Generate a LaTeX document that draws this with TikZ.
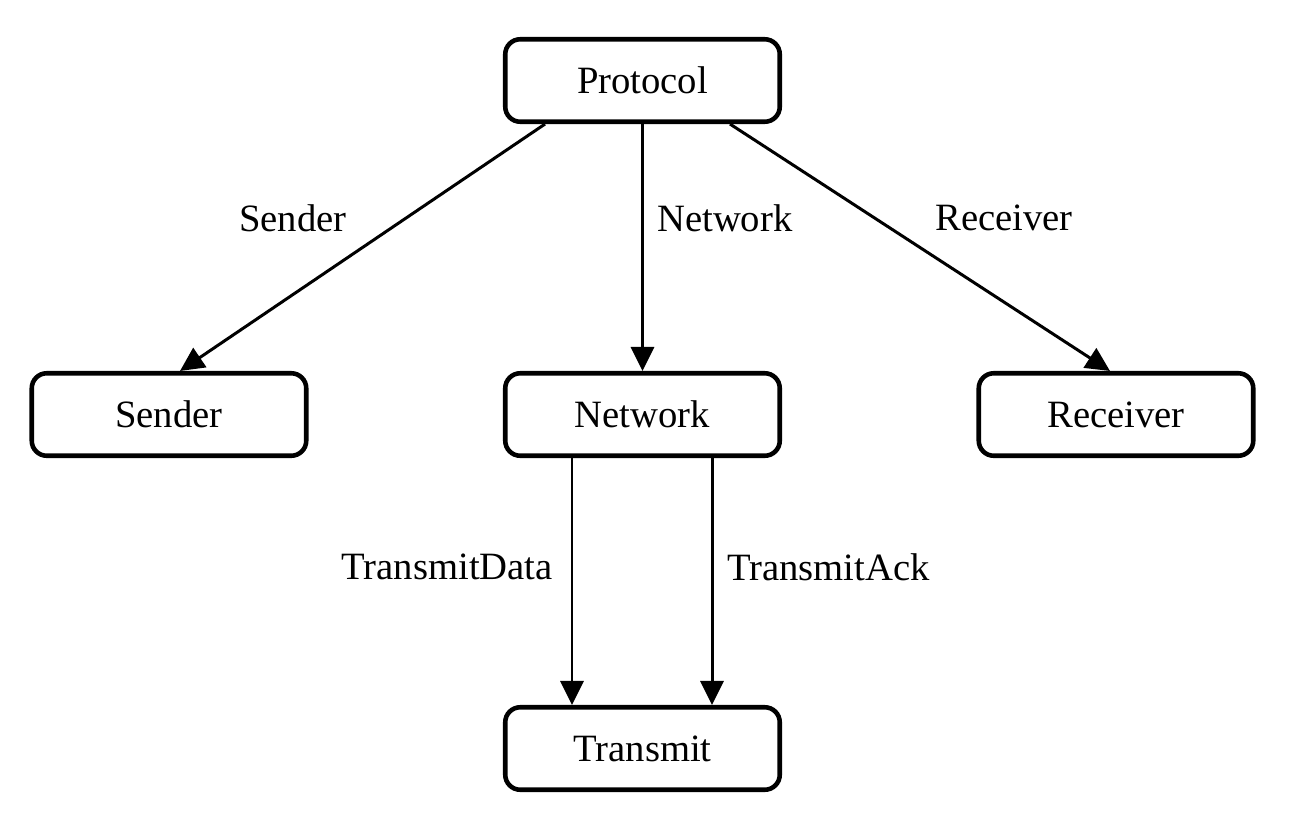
\documentclass[tikz,border=0pt]{standalone}
\usepackage{fontspec}
\setmainfont{Liberation Serif}
\usetikzlibrary{arrows.meta}
\tikzset{
  modbox/.style={draw,line width=1.3pt,rounded corners=0.15cm,minimum width=2.745cm,minimum height=0.825cm,font=\fontsize{11}{13}\selectfont},
  edgelbl/.style={font=\fontsize{11}{13}\selectfont},
}

\begin{document}
\begin{tikzpicture}[>={Triangle[length=0.24cm,width=0.23cm]},line width=0.85pt]
          \useasboundingbox (0, 0) rectangle (13.10, -8.34);
          \node[modbox] (proto) at (6.425, -0.805) {Protocol};
          \node[modbox] (sender) at (1.69, -4.145) {Sender};
          \node[modbox] (network) at (6.425, -4.145) {Network};
          \node[modbox] (receiver) at (11.16, -4.145) {Receiver};
          \node[modbox] (transmit) at (6.425, -7.485) {Transmit};
          % edges from the protocol
          \draw[->] ([xshift=-0.975cm]proto.south) -- ([xshift=0.11cm]sender.north);
          \draw[->] (proto.south) -- (network.north);
          \draw[->] ([xshift=0.875cm]proto.south) -- ([xshift=-0.06cm]receiver.north);
          \draw[->] ([xshift=-0.705cm]network.south) -- ([xshift=-0.705cm]transmit.north);
          \draw[->] ([xshift=0.695cm]network.south) -- ([xshift=0.695cm]transmit.north);
          % labels
          \node[edgelbl] (lsender) at (2.93, -2.18) {Sender};
          \node[edgelbl,anchor=west] (lnetwork) at (6.44, -2.18) {Network};
          \node[edgelbl] (lreceiver) at (10.04, -2.18) {Receiver};
          \node[edgelbl,anchor=east] (ldata) at (5.66, -5.67) {TransmitData};
          \node[edgelbl,anchor=west] (lack) at (7.14, -5.67) {TransmitAck};
        \end{tikzpicture}
\end{document}
